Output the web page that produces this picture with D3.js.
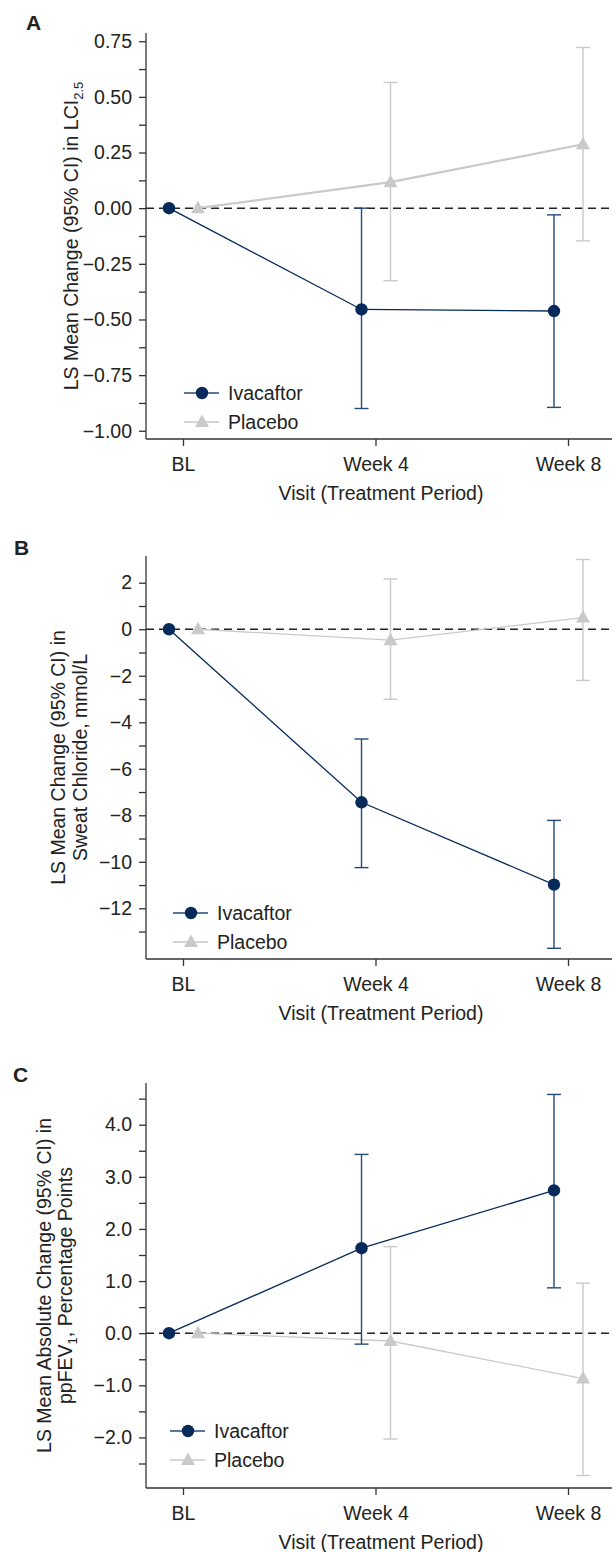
<!DOCTYPE html>
<html>
<head>
<meta charset="utf-8">
<script src="https://cdn.jsdelivr.net/npm/d3@7"></script>
<style>
  body { margin: 0; background: #fff; }
  text { font-family: "Liberation Sans", Arial, sans-serif; fill: #222; }
</style>
</head>
<body>
<svg id="chart" width="615" height="1552"></svg>
<script>
// visits on the x axis
var visits = ["BL", "Week 4", "Week 8"];
var seriesNames = ["Ivacaftor", "Placebo"];

// A: LCI2.5
var lciIva = [0, -0.455, -0.462],
    lciIvaLo = [0, -0.90, -0.895],
    lciIvaHi = [0, 0.0, -0.03];
var lciPbo = [0, 0.117, 0.287],
    lciPboLo = [0, -0.326, -0.147],
    lciPboHi = [0, 0.565, 0.722];
var lciMajor = [-1, -0.75, -0.5, -0.25, 0, 0.25, 0.5, 0.75],
    lciMinor = [-0.875, -0.625, -0.375, -0.125, 0.125, 0.375, 0.625];

// B: sweat chloride
var scIva = [0, -7.44, -10.98],
    scIvaLo = [0, -10.25, -13.72],
    scIvaHi = [0, -4.72, -8.22];
var scPbo = [0, -0.47, 0.5],
    scPboLo = [0, -3.01, -2.2],
    scPboHi = [0, 2.16, 3.0];
var scMajor = [-12, -10, -8, -6, -4, -2, 0, 2],
    scMinor = [-13, -11, -9, -7, -5, -3, -1, 1];

// C: ppFEV1
var fevIva = [0, 1.63, 2.74],
    fevIvaLo = [0, -0.21, 0.87],
    fevIvaHi = [0, 3.43, 4.58];
var fevPbo = [0, -0.15, -0.87],
    fevPboLo = [0, -2.03, -2.73],
    fevPboHi = [0, 1.66, 0.96];
var fevMajor = [-2, -1, 0, 1, 2, 3, 4],
    fevMinor = [-2.5, -1.5, -0.5, 0.5, 1.5, 2.5, 3.5, 4.5];

var svg = d3.select("#chart"),
    navy = "#062a5a",
    navyBar = "#244a77",
    grey = "#c9c9c9",
    axisLeft = 146,
    axisRight = 612,
    fs = 19.5;

var x = d3.scalePoint().domain(visits).range([183, 568]);
var offset = { "Ivacaftor": -14, "Placebo": 15 };

var panels = [
  { label: "A", labelX: 26, labelY: 30, top: 33, bottom: 439, domain: [-1.037, 0.787],
    major: lciMajor, minor: lciMinor, fmt: ".2f",
    title: ["LS Mean Change (95% CI) in LCI"], sub: "2.5", titleX: [78],
    iva: [lciIva, lciIvaLo, lciIvaHi], pbo: [lciPbo, lciPboLo, lciPboHi], pboWidth: 2.2,
    legX: 202, legY: 393 },
  { label: "B", labelX: 14, labelY: 555, top: 556, bottom: 959, domain: [-14.18, 3.15],
    major: scMajor, minor: scMinor, fmt: "d",
    title: ["LS Mean Change (95% CI) in", "Sweat Chloride, mmol/L"], titleX: [65, 87],
    iva: [scIva, scIvaLo, scIvaHi], pbo: [scPbo, scPboLo, scPboHi], pboWidth: 1.3,
    legX: 191, legY: 913 },
  { label: "C", labelX: 13, labelY: 1082, top: 1083, bottom: 1488, domain: [-2.97, 4.8],
    major: fevMajor, minor: fevMinor, fmt: ".1f",
    title: ["LS Mean Absolute Change (95% CI) in", "ppFEV"], sub2: "1", tail2: ", Percentage Points", titleX: [51, 72],
    iva: [fevIva, fevIvaLo, fevIvaHi], pbo: [fevPbo, fevPboLo, fevPboHi], pboWidth: 1.3,
    legX: 188, legY: 1431 }
];

panels.forEach(drawPanel);

function drawPanel(p) {
  var g = svg.append("g");
  var y = d3.scaleLinear().domain(p.domain).range([p.bottom, p.top]);
  var fmt = d3.format(p.fmt);

  // panel letter
  g.append("text")
    .attr("x", p.labelX).attr("y", p.labelY)
    .style("font-size", "21px").style("font-weight", "bold")
    .text(p.label);

  // zero reference line
  g.append("line")
    .attr("x1", axisLeft).attr("x2", axisRight)
    .attr("y1", y(0)).attr("y2", y(0))
    .attr("stroke", "#222").attr("stroke-width", 1.4)
    .attr("stroke-dasharray", "8,5");

  // y axis: major + minor ticks
  var yAxis = g.append("g").attr("transform", "translate(" + axisLeft + ",0)")
    .call(d3.axisLeft(y).tickValues(p.major).tickFormat(fmt).tickSize(7).tickPadding(7));
  g.append("g").attr("transform", "translate(" + axisLeft + ",0)")
    .call(d3.axisLeft(y).tickValues(p.minor).tickFormat("").tickSize(7))
    .select(".domain").remove();

  // x axis
  var xAxis = g.append("g").attr("transform", "translate(0," + p.bottom + ")")
    .call(d3.axisBottom(x).tickSize(7).tickPadding(11));
  xAxis.select(".domain").attr("d", "M" + axisLeft + ",0H" + axisRight);

  g.selectAll(".domain, .tick line").attr("stroke", "#333").attr("stroke-width", 1.3);
  g.selectAll(".tick text").style("font-size", fs + "px").attr("fill", "#222")
    .style("font-family", "'Liberation Sans', Arial, sans-serif");
  yAxis.select(".domain").attr("d", "M0," + p.top + "V" + p.bottom);

  // x axis title
  g.append("text")
    .attr("x", (axisLeft + axisRight) / 2 + 2).attr("y", p.bottom + 61)
    .attr("text-anchor", "middle").style("font-size", fs + "px")
    .text("Visit (Treatment Period)");

  // y axis title (rotated)
  var mid = (p.top + p.bottom) / 2;
  p.title.forEach(function (t, i) {
    var tt = g.append("text")
      .attr("transform", "translate(" + p.titleX[i] + "," + mid + ") rotate(-90)")
      .attr("text-anchor", "middle").style("font-size", fs + "px");
    tt.append("tspan").text(t);
    if (i === 0 && p.sub) {
      tt.append("tspan").attr("dy", 5).style("font-size", "13px").text(p.sub);
    }
    if (i === 1 && p.sub2) {
      tt.append("tspan").attr("dy", 5).style("font-size", "13px").text(p.sub2);
      tt.append("tspan").attr("dy", -5).text(p.tail2);
    }
  });

  // series: placebo first so ivacaftor sits on top
  drawSeries(g, y, "Placebo", p.pbo, grey, grey, p.pboWidth);
  drawSeries(g, y, "Ivacaftor", p.iva, navy, navyBar, 1.3);

  // legend
  var leg = g.append("g").attr("transform", "translate(" + p.legX + "," + p.legY + ")");
  seriesNames.forEach(function (name, i) {
    var row = leg.append("g").attr("transform", "translate(0," + i * 29 + ")");
    row.append("line").attr("x1", -18).attr("x2", 17)
      .attr("stroke", name === "Ivacaftor" ? navyBar : grey).attr("stroke-width", 1.4);
    marker(row, name, 0, 0);
    row.append("text").attr("x", 26).attr("y", 7)
      .style("font-size", fs + "px").text(name);
  });
}

function drawSeries(g, y, name, vals, col, barCol, lw) {
  var mean = vals[0], lo = vals[1], hi = vals[2];
  var pts = visits.map(function (v, i) {
    return { x: x(v) + offset[name], m: mean[i], lo: lo[i], hi: hi[i], i: i };
  });

  // error bars (skip baseline, fixed at zero)
  var bars = g.append("g").selectAll("g")
    .data(pts.filter(d => d.i > 0))
    .enter().append("g")
    .attr("stroke", barCol).attr("stroke-width", 1.4);
  bars.append("line").attr("x1", d => d.x).attr("x2", d => d.x)
    .attr("y1", d => y(d.lo)).attr("y2", d => y(d.hi));
  bars.append("line").attr("x1", d => d.x - 7).attr("x2", d => d.x + 7)
    .attr("y1", d => y(d.lo)).attr("y2", d => y(d.lo));
  bars.append("line").attr("x1", d => d.x - 7).attr("x2", d => d.x + 7)
    .attr("y1", d => y(d.hi)).attr("y2", d => y(d.hi));

  g.append("path").datum(pts)
    .attr("fill", "none").attr("stroke", col).attr("stroke-width", lw)
    .attr("d", d3.line().x(d => d.x).y(d => y(d.m)));

  pts.forEach(function (d) { marker(g, name, d.x, y(d.m)); });
}

function marker(g, name, cx, cy) {
  if (name === "Ivacaftor") {
    g.append("circle").attr("cx", cx).attr("cy", cy).attr("r", 6.2).attr("fill", navy);
  } else {
    g.append("path")
      .attr("transform", "translate(" + cx + "," + (cy - 1) + ")")
      .attr("d", "M0,-6.5L7,6L-7,6Z")
      .attr("fill", grey);
  }
}
</script>
</body>
</html>
